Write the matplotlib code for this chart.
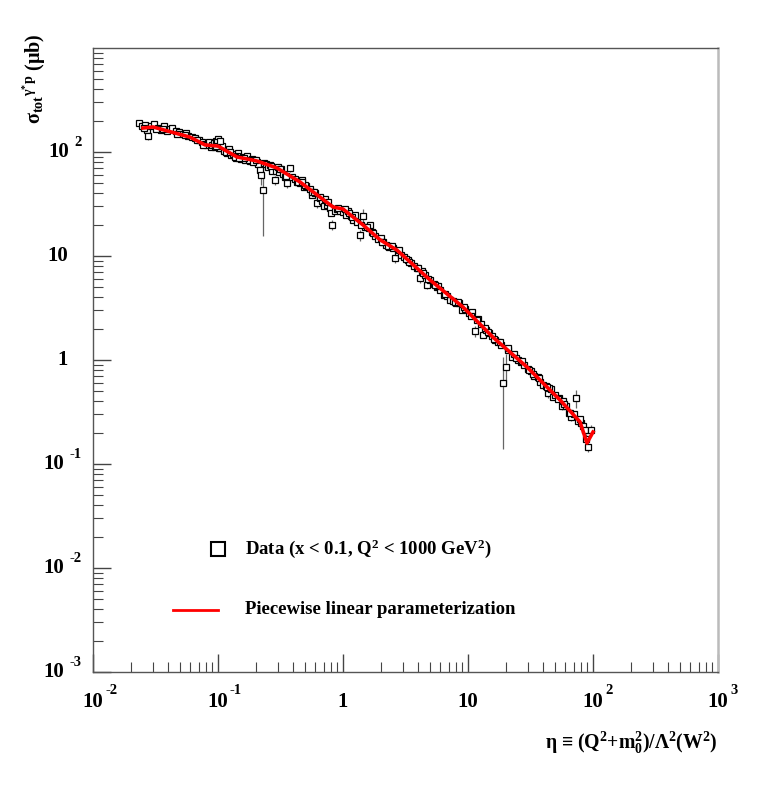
import matplotlib
matplotlib.use("Agg")
import matplotlib.pyplot as plt
import matplotlib.transforms as mtransforms
import numpy as np
from matplotlib.lines import Line2D
from matplotlib.ticker import FixedLocator, LogLocator, NullFormatter

# sigma_tot(gamma* p) vs scaling variable eta
eta = [
    0.0235, 0.0245, 0.026, 0.027, 0.0275, 0.029, 0.031, 0.033, 0.035, 0.037,
    0.039, 0.041, 0.043, 0.046, 0.049, 0.052, 0.055, 0.058, 0.062, 0.066,
    0.070, 0.074, 0.078, 0.082, 0.085, 0.088, 0.090, 0.093, 0.095, 0.097,
    0.099, 0.100, 0.100, 0.101, 0.104, 0.108, 0.112, 0.117, 0.122, 0.127,
    0.133, 0.139, 0.145, 0.152, 0.158, 0.165, 0.172, 0.180, 0.188, 0.195,
    0.205, 0.210, 0.215, 0.220, 0.229, 0.232, 0.240, 0.250, 0.260, 0.270,
    0.285, 0.290, 0.300, 0.310, 0.320, 0.330, 0.345, 0.357, 0.377, 0.390,
    0.410, 0.430, 0.450, 0.470, 0.490, 0.510, 0.540, 0.570, 0.600, 0.620,
    0.650, 0.680, 0.700, 0.720, 0.750, 0.780, 0.800, 0.820, 0.860, 0.900,
    0.950, 1.00, 1.05, 1.10, 1.15, 1.20, 1.25, 1.30, 1.37, 1.44,
    1.50, 1.60, 1.65, 1.70, 1.80, 1.90, 2.00, 2.10, 2.20, 2.35,
    2.50, 2.60, 2.75, 2.90, 3.10, 3.30, 3.50, 3.70, 3.90, 4.10,
    4.30, 4.50, 4.70, 5.00, 5.30, 5.60, 6.00, 6.40, 6.80, 7.20,
    7.60, 8.00, 8.50, 9.00, 9.50, 10.2, 10.8, 11.4, 12.0, 12.6,
    13.2, 14.0, 14.8, 15.6, 16.5, 17.4, 18.3, 19.0, 20.3, 21.0,
    22.3, 23.5, 25.0, 26.5, 28.0, 30.0, 32.0, 34.0, 36.0, 38.0,
    40.0, 42.0, 44.0, 46.0, 48.0, 50.0, 53.0, 56.0, 58.0, 61.0,
    64.0, 67.0, 70.0, 73.5, 76.0, 80.0, 83.0, 86.0, 91.0, 96.0,
    0.0255, 0.032, 0.047, 0.068, 0.098, 0.142, 0.178, 0.35, 0.56, 0.92,
    1.12, 1.40, 1.75, 2.30, 2.80, 3.40, 4.00, 4.80, 5.80, 6.60,
    7.90, 9.30, 10.5, 13.6, 16.0, 17.9, 24.0, 27.0, 33.0, 44.5,
    0.115, 0.125, 0.137, 0.160, 0.190, 0.265, 0.440, 0.500, 0.660, 0.760,
    0.036, 0.054, 0.076, 0.096, 0.103, 0.148, 0.200, 0.315, 0.470, 0.590,
    1.03, 1.18, 1.55, 2.05, 2.45, 3.20, 4.40, 5.40, 8.30, 11.8,
    14.4, 20.8, 31.0, 37.0, 43.0, 52.0, 59.0, 66.0, 78.0, 88.0,
]
sigma = [
    188, 178, 183, 162, 142, 176, 186, 170, 164, 176,
    158, 168, 172, 160, 156, 150, 153, 144, 140, 136,
    131, 126, 120, 118, 124, 112, 117, 121, 111, 128,
    115, 122, 132, 110, 110, 113, 102, 97, 106, 93,
    95, 88, 98, 86, 90, 84, 91, 82, 86, 83,
    80, 76, 67, 60, 43, 79, 77, 72, 75, 66,
    54, 66, 72, 64, 68, 62, 58, 50, 70, 57,
    55, 52, 50, 54, 46, 47, 44, 39, 40, 32,
    36, 34, 30, 35, 31, 29, 26, 20, 27, 28.5,
    27, 26.5, 25, 27, 24, 22, 25, 21, 16, 24.5,
    19, 18.5, 20, 17, 15.5, 14.5, 15, 13.5, 12.8, 12.2,
    12, 9.5, 11, 10.2, 9.8, 9.2, 8.6, 8.0, 7.7, 6.2,
    7.1, 6.6, 5.3, 5.9, 5.4, 5.0, 4.7, 4.2, 4.1, 3.8,
    3.7, 3.5, 3.5, 3.0, 3.1, 2.85, 2.9, 1.9, 2.5, 2.2,
    1.75, 1.95, 1.8, 1.7, 1.55, 1.5, 1.4, 0.6, 0.86, 1.25,
    1.08, 1.15, 1.0, 0.95, 0.9, 0.82, 0.78, 0.7, 0.68, 0.62,
    0.58, 0.56, 0.48, 0.53, 0.44, 0.46, 0.43, 0.36, 0.40, 0.36,
    0.31, 0.28, 0.30, 0.43, 0.26, 0.25, 0.23, 0.21, 0.145, 0.21,
    172, 168, 150, 130, 125, 92, 84, 59, 41, 29,
    26, 20, 16.8, 12.4, 11.3, 8.7, 7.6, 6.0, 5.2, 4.3,
    3.6, 3.25, 2.65, 2.05, 1.6, 1.5, 1.05, 0.97, 0.74, 0.54,
    100, 99, 90, 88, 81, 73, 51, 48, 37, 33,
    166, 146, 118, 113, 127, 87, 84, 69, 51, 41,
    28, 23.5, 18.8, 13.6, 12.5, 9.3, 6.9, 5.3, 3.6, 2.4,
    1.85, 1.3, 0.80, 0.67, 0.55, 0.42, 0.38, 0.31, 0.27, 0.175,
]
rel_err = [
    0.05, 0.05, 0.06, 0.08, 0.09, 0.05, 0.07, 0.05, 0.04, 0.05,
    0.05, 0.04, 0.05, 0.04, 0.05, 0.04, 0.05, 0.04, 0.05, 0.04,
    0.04, 0.05, 0.04, 0.05, 0.06, 0.05, 0.06, 0.07, 0.05, 0.10,
    0.05, 0.06, 0.08, 0.05, 0.05, 0.05, 0.06, 0.05, 0.06, 0.05,
    0.05, 0.04, 0.06, 0.05, 0.05, 0.04, 0.06, 0.05, 0.05, 0.04,
    0.05, 0.06, 0.15, 0.20, 0.64, 0.05, 0.05, 0.06, 0.05, 0.06,
    0.10, 0.05, 0.06, 0.05, 0.05, 0.05, 0.05, 0.09, 0.08, 0.05,
    0.05, 0.05, 0.06, 0.06, 0.05, 0.05, 0.05, 0.06, 0.05, 0.10,
    0.05, 0.05, 0.06, 0.07, 0.05, 0.05, 0.06, 0.12, 0.05, 0.05,
    0.05, 0.05, 0.05, 0.06, 0.05, 0.05, 0.07, 0.05, 0.12, 0.15,
    0.05, 0.05, 0.06, 0.05, 0.05, 0.05, 0.06, 0.05, 0.05, 0.05,
    0.05, 0.10, 0.05, 0.05, 0.05, 0.05, 0.05, 0.05, 0.06, 0.12,
    0.05, 0.05, 0.10, 0.05, 0.05, 0.05, 0.05, 0.07, 0.05, 0.05,
    0.05, 0.05, 0.06, 0.05, 0.05, 0.05, 0.06, 0.12, 0.05, 0.05,
    0.06, 0.05, 0.05, 0.05, 0.05, 0.06, 0.05, 0.77, 0.33, 0.05,
    0.06, 0.05, 0.05, 0.06, 0.05, 0.05, 0.05, 0.06, 0.05, 0.05,
    0.05, 0.06, 0.10, 0.05, 0.06, 0.05, 0.05, 0.08, 0.05, 0.05,
    0.06, 0.07, 0.06, 0.20, 0.08, 0.08, 0.10, 0.12, 0.10, 0.12,
    0.04, 0.05, 0.04, 0.05, 0.06, 0.05, 0.04, 0.06, 0.05, 0.05,
    0.05, 0.06, 0.05, 0.05, 0.06, 0.05, 0.05, 0.06, 0.05, 0.05,
    0.05, 0.05, 0.06, 0.05, 0.05, 0.06, 0.05, 0.05, 0.06, 0.05,
    0.05, 0.04, 0.05, 0.05, 0.04, 0.05, 0.05, 0.04, 0.05, 0.05,
    0.04, 0.05, 0.04, 0.05, 0.06, 0.05, 0.05, 0.06, 0.05, 0.05,
    0.05, 0.05, 0.05, 0.06, 0.05, 0.05, 0.06, 0.05, 0.05, 0.06,
    0.05, 0.06, 0.05, 0.05, 0.06, 0.05, 0.06, 0.07, 0.08, 0.10,
]

# piecewise linear parameterization (nodes)
fit_eta = [0.0251, 0.0302, 0.0597, 0.0787, 0.100, 0.142, 0.171, 0.205, 0.296,
           0.453, 0.832, 1.00, 1.445, 1.98, 2.70, 4.97, 9.12, 15.8, 29.6,
           54.5, 78.7, 89.5, 100.0]
fit_sigma = [170, 174, 139, 117, 114, 89.5, 85.7, 81.9, 70.2,
             51.5, 29.6, 28.3, 19.9, 14.3, 11.4, 5.88, 3.23, 1.66, 0.857,
             0.412, 0.254, 0.159, 0.203]

# tick labels: (value, base, exponent)
x_labels = [(1e-2, '10', '-2'), (1e-1, '10', '-1'), (1, '1', ''),
            (10, '10', ''), (1e2, '10', '2'), (1e3, '10', '3')]
y_labels = [(1e-3, '10', '-3'), (1e-2, '10', '-2'), (1e-1, '10', '-1'),
            (1, '1', ''), (10, '10', ''), (1e2, '10', '2')]

assert len(eta) == len(sigma) == len(rel_err)

plt.rcParams['font.family'] = ['Liberation Serif', 'DejaVu Serif']
plt.rcParams['font.weight'] = 'bold'
plt.rcParams['mathtext.fontset'] = 'custom'
plt.rcParams['mathtext.rm'] = 'Liberation Serif:bold'
plt.rcParams['mathtext.bf'] = 'Liberation Serif:bold'
plt.rcParams['mathtext.it'] = 'Liberation Serif:bold'

fig = plt.figure(figsize=(7.63, 7.87), dpi=100)
ax = fig.add_axes([93 / 763, 1 - 672 / 787, 625 / 763, 624 / 787])

x = np.array(eta)
y = np.array(sigma)
ax.errorbar(x, y, yerr=y * np.array(rel_err), fmt='s', ms=3.7, mfc='white',
            mec='black', mew=0.9, ecolor='#666666', elinewidth=0.9, capsize=0,
            zorder=2)
ax.plot(fit_eta, fit_sigma, color='#ff0000', lw=2.6, zorder=3)

ax.set_xscale('log')
ax.set_yscale('log')
ax.set_xlim(1e-2, 1e3)
ax.set_ylim(1e-3, 1e3)

ax.xaxis.set_major_locator(FixedLocator([v for v, b, e in x_labels]))
ax.yaxis.set_major_locator(FixedLocator([v for v, b, e in y_labels]))
ax.xaxis.set_minor_locator(LogLocator(base=10, subs=np.arange(2, 10), numticks=20))
ax.yaxis.set_minor_locator(LogLocator(base=10, subs=np.arange(2, 10), numticks=20))
ax.xaxis.set_minor_formatter(NullFormatter())
ax.yaxis.set_minor_formatter(NullFormatter())

ax.tick_params(which='both', direction='in', top=False, right=False,
               labelbottom=False, labelleft=False, color='#444444')
ax.tick_params(which='major', length=13, width=1)
ax.tick_params(which='minor', length=7, width=0.8)

for side in ['left', 'bottom', 'top']:
    ax.spines[side].set_color('#555555')
    ax.spines[side].set_linewidth(1.0)
ax.spines['right'].set_color('#bbbbbb')
ax.spines['right'].set_linewidth(1.8)

# ROOT-like tick labels: "10" plus a raised exponent
base_fs = 15
exp_fs = 10.5
renderer = fig.canvas.get_renderer()
xtr = ax.get_xaxis_transform()
for v, b, e in x_labels:
    ax.text(v, 0, b, transform=mtransforms.offset_copy(xtr, fig=fig, x=0, y=-30, units='dots'),
            ha='center', va='center', fontsize=base_fs, fontweight='bold')
    if e:
        ax.text(v, 0, e, transform=mtransforms.offset_copy(xtr, fig=fig, x=12, y=-19, units='dots'),
                ha='left', va='center', fontsize=exp_fs, fontweight='bold')

ytr = ax.get_yaxis_transform()
for v, b, e in y_labels:
    gap = 25
    if e:
        t = ax.text(0, v, e, transform=mtransforms.offset_copy(ytr, fig=fig, x=-11, y=10, units='dots'),
                    ha='right', va='center', fontsize=exp_fs, fontweight='bold')
        w = t.get_window_extent(renderer=renderer).width
        gap = 11 + w + 6
    ax.text(0, v, b, transform=mtransforms.offset_copy(ytr, fig=fig, x=-gap, y=0, units='dots'),
            ha='right', va='center', fontsize=base_fs, fontweight='bold')

# axis titles
fig.text(35 / 763, 1 - 33 / 787,
         r'σ$_{\mathrm{tot}}$$^{\mathrm{γ^{*}p}}$ (μb)',
         rotation=90, ha='center', va='top', fontsize=14.5, fontweight='bold')
fig.text(718 / 763, 1 - 743 / 787,
         r'η ≡ (Q$^{2}$+m$_{0}^{2}$)/Λ$^{2}$(W$^{2}$)',
         ha='right', va='center', fontsize=14.2, fontweight='bold')

# legend
fig.add_artist(Line2D([218 / 763], [1 - 549 / 787], marker='s', ms=10,
                      mfc='white', mec='black', mew=1.5, ls='none'))
fig.text(245 / 763, 1 - 549 / 787, r'Data (x < 0.1, Q$^{2}$ < 1000 GeV$^{2}$)',
         ha='left', va='center', fontsize=13.5, fontweight='bold')
fig.add_artist(Line2D([173 / 763, 218 / 763], [1 - 610 / 787, 1 - 610 / 787],
                      color='#ff0000', lw=2))
fig.text(245 / 763, 1 - 610 / 787, 'Piecewise linear parameterization',
         ha='left', va='center', fontsize=13.5, fontweight='bold')

fig.savefig('out.png', dpi=100)
